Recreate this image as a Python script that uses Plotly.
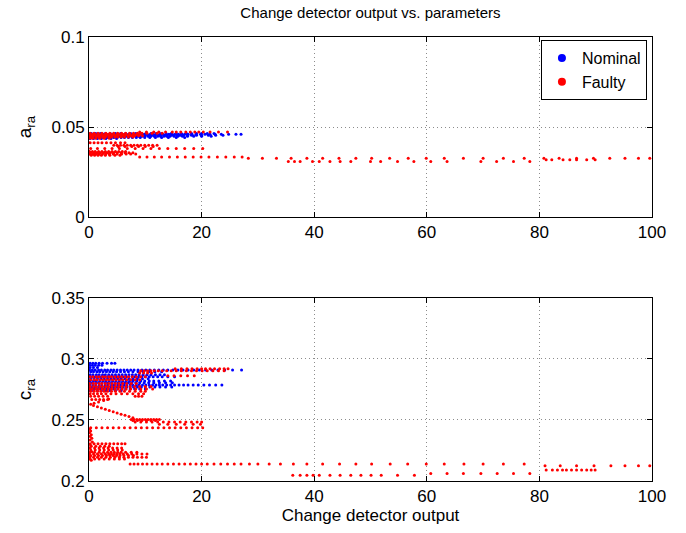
import plotly.graph_objects as go

# ---------------- data ----------------
# Top panel: a_ra  -- rows of (y value, [x values])
nominal_a_rows = [
    (0.0464, [0.4,1.2,2.0,2.9,3.8,4.7,5.6,6.5,7.4,8.3,9.2,10.1,11.0,11.9,12.8,13.7,14.6,15.5,16.4,17.3,18.2,19.1,20.0,21.0,22.2]),
    (0.0460, [0.2,0.6,1.0,1.5,2.0,2.5,3.1,3.6,4.2,4.8,5.3,5.9,6.4,7.0,7.5,8.1,8.6,9.2,9.8,10.3,10.9,11.4,12.0,12.6,13.1,13.7,14.2,14.8,15.3,15.9,16.5,17.0,17.6,18.3,19.0,19.8,20.6,21.5,22.4,23.5,24.8,26.1,27.0]),
    (0.0454, [0.3,0.8,1.3,1.8,2.3,2.9,3.4,4.0,4.5,5.1,5.6,6.2,6.7,7.3,7.8,8.4,8.9,9.5,10.0,10.6,11.1,11.7,12.3,12.8,13.4,13.9,14.5,15.0,15.6,16.2,16.8,17.5,18.2,19.1,20.0,21.2,22.5,23.8]),
    (0.0448, [0.1,0.7,1.2,1.7,2.2,2.8,3.3,3.9,4.4,5.0,5.5,6.1,6.6,7.2,7.7,8.3,8.8,9.4,9.9,10.5,11.0,11.6,12.2,12.7,13.3,13.8,14.4,15.1,15.8,16.6,17.5,18.6,20.0,21.7]),
    (0.0442, [0.4,0.9,1.4,2.0,2.6,3.2,3.8,4.4,5.0,5.7,6.3,7.0,7.7,8.4,9.1,9.9,10.8,11.8,12.9,14.1,15.5,17.0]),
    (0.0436, [0.2,0.8,1.5,2.2,3.0,3.9,4.9]),
]
faulty_a_rows = [
    (0.0472, [9.0,10.2,11.5,12.4,13.6,14.8,15.5,16.3,17.2,18.0,18.8,19.5,20.3,21.5,23.0,24.6]),
    (0.0465, [0.2,0.9,1.6,2.3,3.0,3.7,4.4,5.1,5.8,6.5,7.2,7.9,8.6,9.4,10.3,11.2,12.1,13.0]),
    (0.0458, [0.1,0.6,1.1,1.7,2.2,2.8,3.3,3.9,4.4,5.0,5.5,6.1,6.6,7.2,7.8,8.4,9.0]),
    (0.0451, [0.3,0.8,1.4,1.9,2.5,3.0,3.6,4.1,4.7,5.2,5.8,6.3,6.9,7.5,8.1,8.8,9.5]),
    (0.0444, [0.2,0.7,1.3,1.8,2.4,2.9,3.5,4.0,4.6,5.1,5.7,6.3,7.0,7.8]),
    (0.0438, [0.1,0.6,1.2,1.9,2.7,3.6]),
    (0.0413, [0.2,0.9,1.6,2.3,3.1,3.9,4.7,5.6,6.4]),
    (0.0398, [4.4,5.0,5.6,6.2,6.8,7.4,8.0,8.6,9.2,9.9,10.6,11.3,12.1]),
    (0.0392, [5.2,6.4,7.6,8.8,10.0,11.4]),
    (0.0380, [0.3,1.5,2.8,4.1,5.4,6.8,8.2,9.6,11.0,12.5,14.0,15.5,17.0,18.6,20.2]),
    (0.0364, [0.1,0.6,1.1,1.7,2.3,2.9,3.5,4.1,4.7,5.3,5.9,6.5]),
    (0.0357, [0.3,0.9,1.4,2.0,2.6,3.2,3.8,4.4,5.0,5.7,6.4,7.1,7.8]),
    (0.0350, [0.1,0.7,1.2,1.8,2.4,3.0,3.6,4.3,5.0,5.8,6.6,7.4,8.3]),
    (0.0343, [0.4,1.0,1.6,2.2,2.9,3.7,4.6,5.5]),
    (0.0334, [9.0,10.3,11.6,12.9,14.3,15.7,17.1,18.5,19.9,21.3,22.8,24.3,25.8,27.2]),
    (0.0326, [28.3,30.8,33.3,35.9,38.7,41.5,44.4,47.4,50.2,53.4,56.7,59.9,63.1,66.5,70.0,73.6,77.3,80.8,83.5,86.6,89.6,92.5,95.2,97.6,99.6]),
    (0.0309, [35.4,36.5,37.5,39.7,40.9,42.8,44.6,46.5,50.0,51.8,54.8,57.7,60.7,63.6,69.6,72.4,75.4,78.3]),
    (0.0318, [81.2,82.2,84.2,85.4,86.6,88.4,89.9]),
]

# Bottom panel: c_ra
nominal_c_rows = [
    (0.2965, [0.2,0.7,1.2,1.8,2.4,3.2,4.0,4.6]),
    (0.2948, [0.1,0.6,1.1,1.7,2.3]),
    (0.2930, [0.2,0.8,1.5]),
    (0.2910, [0.1,0.6,1.1,1.7,2.2,2.8,3.3,3.9,4.4,5.0,5.6,6.2,6.8,7.4,8.0,8.7,9.4,10.1,10.8,11.6,12.4,13.2,14.0,14.9,15.8,16.7,17.6,18.6,19.6,20.7,21.8,22.9,24.1,25.5,27.1]),
    (0.2895, [0.3,0.8,1.4,1.9,2.5,3.1,3.7,4.3,4.9,5.6,6.3,7.0,7.8,8.7,9.6,10.6,11.7,12.9]),
    (0.2870, [0.2,0.7,1.3,1.8,2.4,2.9,3.5,4.1,4.7,5.3,5.9,6.5,7.1,7.7,8.3,8.9,9.6,10.3,11.0,11.8,12.6,13.4]),
    (0.2855, [0.1,0.6,1.1,1.6,2.2,2.7,3.3,3.8,4.4,4.9,5.5,6.0,6.6,7.1,7.7,8.2,8.8,9.4,10.0,10.7,11.4,12.2,13.0,14.0,15.2]),
    (0.2838, [0.3,0.9,1.5,2.1,2.7,3.3,3.9,4.5,5.1,5.7,6.4,7.1,7.8,8.6,9.5,10.5]),
    (0.2820, [0.2,0.8,1.3,1.9,2.5,3.0,3.6,4.2,4.8,5.4,6.0,6.6,7.2,7.8,8.5,9.2,9.9,10.7,11.5,12.4,13.4,14.5]),
    (0.2805, [0.1,0.6,1.2,1.7,2.3,2.9,3.4,4.0,4.6,5.2,5.8,6.4,7.0,7.6,8.3,9.0,9.8,10.6,11.5,12.5,13.6,14.8]),
    (0.2787, [0.2,0.7,1.2,1.8,2.3,2.9,3.4,4.0,4.5,5.1,5.6,6.2,6.7,7.3,7.8,8.4,8.9,9.5,10.1,10.7,11.3,11.9,12.5,13.1,13.8,14.5,15.2,16.0,16.8,17.6,18.5,19.4,20.4,21.4,22.5,23.6]),
    (0.2770, [0.1,0.6,1.1,1.7,2.2,2.8,3.3,3.9,4.4,5.0,5.5,6.1,6.7,7.3,7.9,8.6,9.3,10.0,10.8,11.7,12.6,13.6,14.7]),
    (0.2755, [0.3,0.9,1.4,2.0,2.6,3.2,3.8,4.4,5.1,5.8,6.5,7.3,8.1,9.0,10.0]),
    (0.2740, [0.2,0.8,1.5,2.2,3.0,3.8,4.7,5.7]),
]
faulty_c_rows = [
    (0.2920, [15.3,16.4,17.4,18.3,19.2,20.0,20.7,21.5,22.3,23.2,24.0,24.7]),
    (0.2903, [9.2,9.8,10.4,11.0,11.6,12.3,13.0,13.8,14.6,15.5,16.4,17.3,18.2,19.1,20.1,21.0,22.0,23.0,24.0]),
    (0.2885, [9.0,9.7,10.4,11.1]),
    (0.2862, [14.0,15.1,16.3,17.5,18.7]),
    (0.2855, [0.2,0.7,1.3,1.8,2.4,2.9,3.5,4.0,4.6,5.2,5.8,6.4,7.0,7.7,8.4,9.2,10.0]),
    (0.2830, [0.3,0.9,1.4,2.0,2.5,3.1,3.6,4.2,4.8,5.4,6.0,6.7,7.4,8.2,9.0]),
    (0.2800, [0.1,0.7,1.2,1.8,2.3,2.9,3.5,4.1,4.7,5.3,6.0,6.7,7.5,8.4]),
    (0.2775, [0.2,0.8,1.3,1.9,2.4,3.0,3.5,4.1,4.7,5.3,5.9,6.6,7.3,8.1,9.0,10.0,11.0]),
    (0.2755, [0.1,0.6,1.2,1.7,2.3,2.8,3.4,4.0,4.6,5.2,5.9,6.6,7.4,8.3,9.2,10.2,11.3]),
    (0.2735, [0.3,0.9,1.5,2.1,2.7,3.3,4.0,4.7,5.5,6.3,7.2,8.2,9.2,10.0]),
    (0.2715, [0.2,0.8,1.5,2.2,3.0,3.9,4.8,5.8,6.8,7.8,8.8,9.7]),
    (0.2695, [0.3,1.0,1.7,2.5,3.3,8.2,8.8,9.4]),
    (0.2668, [0.5,1.2,1.9,2.6,3.3]),
    (0.2505, [7.5,8.0,8.5,9.0,9.5,10.0,10.5,11.0,11.5,12.0,12.5]),
    (0.2495, [7.8,8.6,9.4,10.2,11.0,11.8]),
    (0.2483, [8.2,9.2,10.2,11.2,12.2,13.2,14.2,15.2,16.2,17.2,18.2,19.2,20.0]),
    (0.2465, [12.5,14.0,15.5,17.0,18.5,19.8]),
    (0.2436, [0.3,1.3,2.3,3.3,4.3,5.3,6.3,7.3,8.3,9.3,10.3,11.3,12.3,13.3,14.3,15.3,16.3,17.3,18.3,19.3,20.2]),
    (0.2305, [0.2,0.9,1.6,2.3,3.0,3.7,4.4,5.1,5.8,6.4]),
    (0.2285, [0.4,1.2,2.0,2.8,3.6]),
    (0.2270, [0.2,1.0,1.8,2.6,3.4,4.2,5.0,5.8]),
    (0.2255, [0.3,1.1,1.9,2.7,3.5,4.3,5.1,5.9]),
    (0.2235, [0.2,1.0,1.8,2.6,3.3,3.9,4.5,5.1,5.7,6.5,7.5,8.5]),
    (0.2222, [0.1,0.8,1.5,2.2,2.9,3.5,4.0,4.5,5.0,5.5,6.1,6.8,7.6,8.5,9.4,10.3]),
    (0.2208, [0.3,1.0,1.7,2.4,3.1,3.7,4.3,4.9,5.5,6.2,7.0,7.9]),
    (0.2195, [0.1,0.8,1.5,2.2,3.0,3.8,4.6,5.4,6.2,7.0,7.8,8.6,9.4,10.2]),
    (0.2180, [0.2,1.0,1.8,2.7,3.6,4.5,5.4,6.3]),
    (0.2140, [7.3,8.0,8.7,9.5,10.3,11.2,12.1,13.0,14.0,15.0,16.0,17.0,18.0,19.0,20.0,21.0,22.2,23.4,24.6,25.8,27.0,28.5,30.0,32.0,34.0,36.3,38.7,41.5,44.5,47.4,50.2,53.5,56.6,59.9,63.1,66.6,70.0,73.6,77.3]),
    (0.2125, [81.0,83.7,86.6,89.7,92.7,95.2,97.6,99.6]),
    (0.2048, [36.2,37.5,38.7,39.8,40.9,42.8,44.6,46.5,48.3,50.1,51.9,54.8,57.8]),
    (0.2062, [60.7,63.6,66.5,69.6,72.5,75.4,78.3]),
    (0.2090, [81.2,82.3,83.2,84.1,84.8,85.7,86.6,87.5,88.4,89.2,89.9]),
]
# "<"-shaped branch and the vertical cluster near x = 0 (bottom panel, faulty)
faulty_c_curve_x = [3.5,2.6,1.7,0.9,0.3,0.8,1.5,2.2,2.9,3.6,4.3,5.0,5.7,6.4,7.1,7.8,
                    0.1,0.3,0.1,0.4,0.2,0.5,0.2,0.6,0.3,0.5,0.2,0.4]
faulty_c_curve_y = [0.2672,0.2660,0.2648,0.2638,0.2628,0.2618,0.2608,0.2598,0.2588,0.2578,0.2568,0.2558,0.2548,0.2538,0.2528,0.2518,
                    0.2425,0.2410,0.2395,0.2380,0.2365,0.2350,0.2335,0.2320,0.2290,0.2240,0.2200,0.2170]

series_names = ["Nominal", "Faulty"]
series_colors = ["#0000FF", "#FF0000"]
x_ticks = [0, 20, 40, 60, 80, 100]
a_ticks = [0, 0.05, 0.1]
c_ticks = [0.2, 0.25, 0.3, 0.35]


def flatten(rows):
    xs, ys = [], []
    for yv, row in rows:
        xs.extend(row)
        ys.extend([yv] * len(row))
    return xs, ys


FONT = "Liberation Sans, Arial, Helvetica, sans-serif"
fig = go.Figure()

mk = dict(size=3, line=dict(width=0))

nax, nay = flatten(nominal_a_rows)
fax, fay = flatten(faulty_a_rows)
ncx, ncy = flatten(nominal_c_rows)
fcx, fcy = flatten(faulty_c_rows)
fcx += faulty_c_curve_x
fcy += faulty_c_curve_y

fig.add_trace(go.Scatter(x=nax, y=nay, mode="markers", marker=dict(color=series_colors[0], **mk),
                         showlegend=False, xaxis="x", yaxis="y"))
fig.add_trace(go.Scatter(x=fax, y=fay, mode="markers", marker=dict(color=series_colors[1], **mk),
                         showlegend=False, xaxis="x", yaxis="y"))
fig.add_trace(go.Scatter(x=ncx, y=ncy, mode="markers", marker=dict(color=series_colors[0], **mk),
                         showlegend=False, xaxis="x2", yaxis="y2"))
fig.add_trace(go.Scatter(x=fcx, y=fcy, mode="markers", marker=dict(color=series_colors[1], **mk),
                         showlegend=False, xaxis="x2", yaxis="y2"))
for name, col in zip(series_names, series_colors):
    fig.add_trace(go.Scatter(x=[None], y=[None], mode="markers", name=name,
                             marker=dict(color=col, size=8), xaxis="x", yaxis="y"))

axis_common = dict(showline=True, linecolor="black", linewidth=1, mirror="ticks",
                   ticks="inside", ticklen=5, tickcolor="black",
                   showgrid=True, gridcolor="#8c8c8c", griddash="1px,3px", gridwidth=1,
                   zeroline=False, tickfont=dict(family=FONT, size=17, color="black"))

fig.update_layout(
    width=686, height=533,
    margin=dict(l=89, r=34, t=37, b=52),
    paper_bgcolor="white", plot_bgcolor="white",
    font=dict(family=FONT, color="black"),
    title=dict(text="Change detector output vs. parameters", x=0.54, xanchor="center",
               y=0.976, yanchor="middle", font=dict(family=FONT, size=15, color="black")),
    xaxis=dict(domain=[0, 1], range=[0, 100], tickvals=x_ticks, anchor="y", **axis_common),
    yaxis=dict(domain=[0.5946, 1], range=[0, 0.1], tickvals=a_ticks, anchor="x",
               title=dict(text="a<sub>ra</sub>", font=dict(family=FONT, size=19), standoff=14),
               **axis_common),
    xaxis2=dict(domain=[0, 1], range=[0, 100], tickvals=x_ticks, anchor="y2",
                title=dict(text="Change detector output", font=dict(family=FONT, size=17), standoff=2),
                **axis_common),
    yaxis2=dict(domain=[0, 0.4122], range=[0.2, 0.35], tickvals=c_ticks, anchor="x2",
                title=dict(text="c<sub>ra</sub>", font=dict(family=FONT, size=19), standoff=14),
                **axis_common),
    legend=dict(x=0.991, y=0.993, xanchor="right", yanchor="top",
                bgcolor="white", bordercolor="black", borderwidth=1,
                font=dict(family=FONT, size=16, color="black"),
                itemwidth=30, tracegroupgap=2),
)

fig.write_html("out.html")
